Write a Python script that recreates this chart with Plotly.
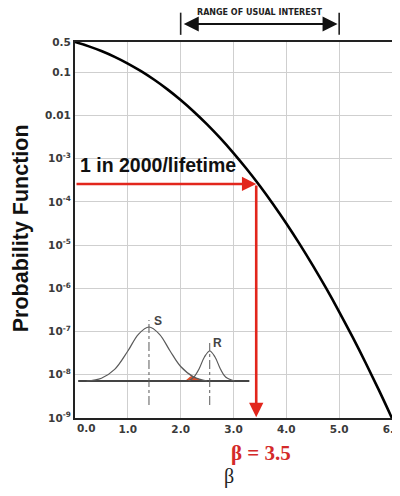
import math
import plotly.graph_objects as go

# Main curve: probability of failure vs reliability index beta
beta = [0.0, 0.25, 0.5, 0.75, 1.0, 1.25, 1.5, 1.75, 2.0, 2.25, 2.5, 2.75, 3.0,
        3.25, 3.5, 3.75, 4.0, 4.25, 4.5, 4.75, 5.0, 5.25, 5.5, 5.75, 6.0]
prob = [0.5, 0.401, 0.3085, 0.2266, 0.1587, 0.1056, 0.0668, 0.0401, 0.02275,
        0.01222, 0.00621, 0.00298, 0.00135, 5.77e-4, 2.33e-4, 8.84e-5, 3.17e-5,
        1.07e-5, 3.40e-6, 1.02e-6, 2.87e-7, 7.6e-8, 1.90e-8, 4.46e-9, 9.87e-10]

x_ticks = [1, 2, 3, 4, 5, 6]
x_ticktext = ["1.0", "2.0", "3.0", "4.0", "5.0", "6.0"]
y_ticks = [0.5, 0.1, 0.01, 1e-3, 1e-4, 1e-5, 1e-6, 1e-7, 1e-8, 1e-9]
y_ticktext = ["0.5", "0.1", "0.01", "10<sup>-3</sup>", "10<sup>-4</sup>", "10<sup>-5</sup>",
              "10<sup>-6</sup>", "10<sup>-7</sup>", "10<sup>-8</sup>", "10<sup>-9</sup>"]

# Target point: 1 in 2000 / lifetime
target_beta = 3.43
target_prob = 2.6e-4

# Inset schematic (S = load, R = resistance), heights in inset units
S_beta = [0.22, 0.5, 0.75, 1.0, 1.2, 1.4, 1.6, 1.8, 2.0, 2.25, 2.5]
S_h = [0.0, 2.8, 11.6, 30.0, 46.7, 54.0, 46.7, 30.0, 14.5, 3.9, 0.0]
R_beta = [2.15, 2.25, 2.35, 2.45, 2.55, 2.65, 2.75, 2.85, 3.02]
R_h = [0.0, 4.0, 12.3, 24.0, 30.0, 24.0, 12.3, 4.0, 0.0]
overlap_beta = [2.08, 2.15, 2.21, 2.3, 2.45]
overlap_h = [0.0, 3.0, 5.0, 3.0, 0.0]
baseline_beta = [0.06, 3.3]
S_mean, R_mean = 1.40, 2.55

RED = "#e2261c"
GRAY = "#5a5a5a"

fig = go.Figure()

# inset
fig.add_trace(go.Scatter(x=overlap_beta, y=overlap_h, yaxis="y2", mode="lines",
                         line=dict(color="#e0502a", width=0, shape="spline"),
                         fill="toself", fillcolor="#e0502a", hoverinfo="skip"))
fig.add_trace(go.Scatter(x=baseline_beta, y=[0, 0], yaxis="y2", mode="lines",
                         line=dict(color="#444", width=1.8), hoverinfo="skip"))
fig.add_trace(go.Scatter(x=S_beta, y=S_h, yaxis="y2", mode="lines",
                         line=dict(color=GRAY, width=1.2, shape="spline"), hoverinfo="skip"))
fig.add_trace(go.Scatter(x=R_beta, y=R_h, yaxis="y2", mode="lines",
                         line=dict(color=GRAY, width=1.2, shape="spline"), hoverinfo="skip"))
fig.add_trace(go.Scatter(x=[S_mean, S_mean], y=[-24, 61], yaxis="y2", mode="lines",
                         line=dict(color=GRAY, width=1, dash="dashdot"), hoverinfo="skip"))
fig.add_trace(go.Scatter(x=[R_mean, R_mean], y=[-24, 38], yaxis="y2", mode="lines",
                         line=dict(color=GRAY, width=1, dash="dashdot"), hoverinfo="skip"))

# main curve
fig.add_trace(go.Scatter(x=beta, y=prob, mode="lines",
                         line=dict(color="black", width=2.6, shape="spline")))

tick_font = dict(family="DejaVu Sans", size=10.5, color="#3a3a3a", weight="bold")

fig.update_layout(
    width=384, height=480,
    margin=dict(l=67, r=0, t=34, b=70, autoexpand=False),
    paper_bgcolor="white", plot_bgcolor="white",
    showlegend=False,
    xaxis=dict(range=[0, 6], tickvals=x_ticks, ticktext=x_ticktext,
               showgrid=True, gridcolor="#cfcfcf", gridwidth=1,
               showline=True, mirror=True, linecolor="#222", linewidth=2,
               ticks="", tickfont=tick_font, zeroline=False, automargin=False,
               ticklabeloverflow="allow"),
    yaxis=dict(type="log", range=[-9, math.log10(0.5)], tickvals=y_ticks,
               ticktext=y_ticktext, showgrid=True, gridcolor="#cfcfcf", gridwidth=1,
               showline=True, mirror=True, linecolor="#222", linewidth=2,
               ticks="", tickfont=tick_font, zeroline=False, automargin=False),
    yaxis2=dict(overlaying="y", range=[-37, 339], visible=False),
)

C = dict(xanchor="center", yanchor="middle")
ann = []
# red arrows
ann.append(dict(x=target_beta, y=math.log10(target_prob), xref="x", yref="y",
                ax=0.0, ay=math.log10(target_prob), axref="x", ayref="y",
                showarrow=True, arrowhead=2, arrowsize=1.1, arrowwidth=2.6,
                arrowcolor=RED, text=""))
ann.append(dict(x=target_beta, y=-8.98, xref="x", yref="y",
                ax=target_beta, ay=math.log10(target_prob), axref="x", ayref="y",
                showarrow=True, arrowhead=2, arrowsize=1.1, arrowwidth=2.6,
                arrowcolor=RED, text=""))
ann.append(dict(x=1.575, y=-3.146, xref="x", yref="y", showarrow=False,
                text="1 in 2000/lifetime", **C,
                font=dict(family="Liberation Sans", size=19.5, color="#111", weight="bold")))
# inset labels
ann.append(dict(x=1.57, y=60, xref="x", yref="y2", showarrow=False, text="S", **C,
                font=dict(family="Liberation Sans", size=12, color="#444", weight="bold")))
ann.append(dict(x=2.70, y=38, xref="x", yref="y2", showarrow=False, text="R", **C,
                font=dict(family="Liberation Sans", size=12, color="#444", weight="bold")))
# 0.0 tick label (offset as in the original)
ann.append(dict(x=0.21, y=0, xref="x", yref="paper", xanchor="center", yanchor="top",
                yshift=-2, showarrow=False, text="0.0", font=tick_font))
# beta labels
ann.append(dict(x=0.587, y=-0.093, xref="paper", yref="paper", showarrow=False,
                text="β = 3.5", **C,
                font=dict(family="Liberation Serif", size=21, color="#d42a2a", weight="bold")))
ann.append(dict(x=0.486, y=-0.155, xref="paper", yref="paper", showarrow=False,
                text="β", **C, font=dict(family="Liberation Serif", size=20, color="#222")))
# y title
ann.append(dict(x=-0.170, y=0.505, xref="paper", yref="paper", showarrow=False,
                text="Probability Function", textangle=-90, **C,
                font=dict(family="Liberation Sans", size=21.5, color="#111", weight="bold")))
# range of usual interest
ann.append(dict(x=3.5, y=1.078, xref="x", yref="paper", showarrow=False,
                text="RANGE OF USUAL INTEREST", **C,
                font=dict(family="DejaVu Sans", size=8, color="#222", weight="bold")))
ann.append(dict(x=4.97, y=1.048, xref="x", yref="paper",
                ax=2.03, ay=0, axref="x", ayref="pixel", showarrow=True,
                arrowhead=2, arrowside="end+start", arrowsize=1.5, arrowwidth=2,
                arrowcolor="#111", text=""))
fig.update_layout(annotations=ann)

for bx in [2, 5]:
    fig.add_shape(type="line", xref="x", yref="paper", x0=bx, x1=bx, y0=1.019, y1=1.078,
                  line=dict(color="#222", width=1.6))

fig.write_html("out.html")
